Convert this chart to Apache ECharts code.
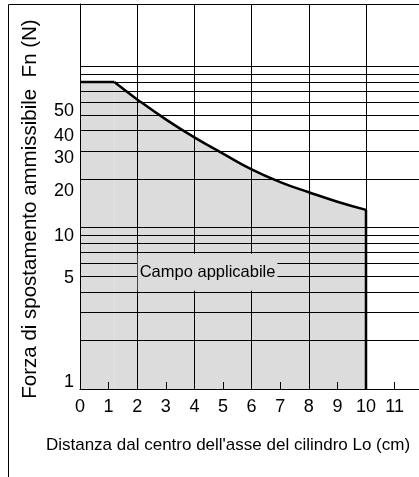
<!DOCTYPE html>
<html><head><meta charset="utf-8">
<script src="https://cdn.jsdelivr.net/npm/echarts@6/dist/echarts.min.js"></script>
<style>html,body{margin:0;padding:0;background:#fff}#c{width:419px;height:477px}</style>
</head><body><div id="c"></div>
<script>
// Data
const distance = [0, 1.2, 2, 3, 4, 5, 6, 7, 8, 9, 10, 10];
const force    = [80, 80, 62.5, 47, 36.3, 28.8, 23, 19.2, 16.6, 14.5, 12.9, 1];
const xMinorTicks = [1, 3, 5, 7, 9, 11];
const yGridValues = [2, 3, 4, 5, 6, 7, 8, 9, 10, 20, 30, 40, 50, 60, 70, 80, 90, 100];
const yLabelValues = [1, 5, 10, 20, 30, 40, 50];
const regionLabel = 'Campo applicabile';
const regionLabelAt = [4.46, 5.3];
const xTitle = "Distanza dal centro dell'asse del cilindro Lo (cm)";
const yTitle = 'Forza di spostamento ammissibile  Fn (N)';

// style: small vertical nudges of y labels (px) as in the printed original
const yLabelNudge = { 1: -6.5, 5: 2, 10: 8, 20: 12, 30: 7, 40: 5, 50: -4 };

const FONT = '"Liberation Sans", Arial, sans-serif';
const chart = echarts.init(document.getElementById('c'), null, { renderer: 'canvas' });
const xMax = 11.853, yMax = 244;

const rich = {};
Object.keys(yLabelNudge).forEach(k => {
  const d = yLabelNudge[k];
  rich['n' + k] = { fontSize: 18, fontFamily: FONT, color: '#000',
    padding: d >= 0 ? [2 * d, 0, 0, 0] : [0, 0, -2 * d, 0] };
});

const pts = distance.map((d, i) => [d, force[i]]);
const last = pts.length - 1;
const flatPts = pts.slice(0, 2);
const curvePts = pts.slice(1, last);
const dropPts = pts.slice(last - 1);

const fillStyle = { color: '#dcdcdc', opacity: 1, origin: 'start' };
const lineStyle = { color: '#000', width: 2.5 };
const SMOOTH = 0.5;

chart.setOption({
  animation: false,
  backgroundColor: '#fff',
  grid: { left: 80, right: 0, top: 4, bottom: 88 },
  xAxis: [
    { type: 'value', min: 0, max: xMax, interval: 2,
      axisLine: { show: true, lineStyle: { color: '#000', width: 1 } },
      axisTick: { show: false }, axisLabel: { show: false },
      splitLine: { show: true, lineStyle: { color: '#000', width: 1 } } },
    { type: 'value', min: 0, max: xMax, interval: 1, position: 'bottom',
      axisLine: { show: false },
      axisTick: { show: true, inside: true, length: 7, customValues: xMinorTicks, lineStyle: { color: '#000', width: 1 } },
      axisLabel: { show: true, showMaxLabel: false, margin: 9, color: '#000', fontSize: 18, fontFamily: FONT },
      splitLine: { show: false } }
  ],
  yAxis: [
    { type: 'log', logBase: 10, min: 1, max: yMax,
      axisLine: { show: true, lineStyle: { color: '#000', width: 1 } },
      axisTick: { show: false, customValues: yGridValues },
      axisLabel: { show: true, customValues: yLabelValues, hideOverlap: false, margin: 6,
        color: '#000', fontSize: 18, fontFamily: FONT,
        formatter: v => '{n' + v + '|' + v + '}', rich: rich },
      splitLine: { show: true, lineStyle: { color: '#000', width: 1 } } }
  ],
  graphic: [
    { type: 'rect', silent: true, z: 100,
      shape: { x: 8.5, y: 4.5, width: 500, height: 600 },
      style: { fill: 'none', stroke: '#000', lineWidth: 1 } },
    { type: 'text', x: 228, y: 445, z: 100,
      style: { text: xTitle, fontSize: 17, fontFamily: FONT, fill: '#000', align: 'center', verticalAlign: 'middle' } },
    { type: 'text', x: 30, y: 209, rotation: Math.PI / 2, z: 100,
      style: { text: yTitle, fontSize: 20.5, fontFamily: FONT, fill: '#000', align: 'center', verticalAlign: 'middle' } }
  ],
  series: [
    { type: 'line', z: -1, data: flatPts, symbol: 'none', lineStyle: { width: 0 }, areaStyle: fillStyle, silent: true },
    { type: 'line', z: -1, data: curvePts, symbol: 'none', smooth: SMOOTH, lineStyle: { width: 0 }, areaStyle: fillStyle, silent: true },
    { type: 'line', z: 5, data: flatPts, symbol: 'none', lineStyle: lineStyle, silent: true },
    { type: 'line', z: 5, data: curvePts, symbol: 'none', smooth: SMOOTH, lineStyle: lineStyle, silent: true },
    { type: 'line', z: 5, data: dropPts, symbol: 'none', lineStyle: lineStyle, silent: true,
      markPoint: {
        symbol: 'rect', symbolSize: 0, silent: true,
        data: [{ coord: regionLabelAt, value: regionLabel }],
        label: { show: true, position: 'inside', formatter: regionLabel,
          color: '#000', fontSize: 16.5, fontFamily: FONT,
          backgroundColor: '#dcdcdc', padding: [10, 2] }
      } }
  ]
});
</script></body></html>
